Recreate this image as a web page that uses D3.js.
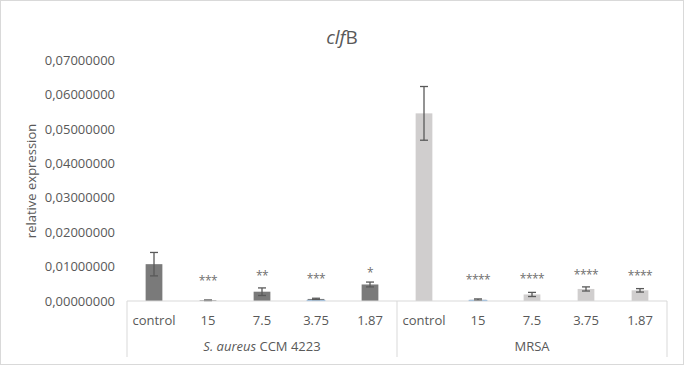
<!DOCTYPE html>
<html>
<head>
<meta charset="utf-8">
<script src="https://cdn.jsdelivr.net/npm/d3@7"></script>
<style>
body{margin:0;background:#fff;}
svg text{font-family:"Open Sans",sans-serif;fill:#595959;}
</style>
</head>
<body>
<svg id="chart"></svg>
<script>
// data
var groups=["S. aureus CCM 4223","MRSA"];
var doses=["control","15","7.5","3.75","1.87"];
var saureusVal=[0.0107,0.0002,0.0027,0.0006,0.0048];
var saureusErr=[0.0034,0.0001,0.0011,0.0002,0.0007];
var saureusSig=["","***","**","***","*"];
var saureusSigAt=[0,0.0067,0.0081,0.0072,0.0090];
var mrsaVal=[0.0545,0.0004,0.0019,0.0035,0.0031];
var mrsaErr=[0.0078,0.0002,0.0006,0.0006,0.0005];
var mrsaSig=["","****","****","****","****"];
var mrsaSigAt=[0,0.0070,0.0072,0.0085,0.0082];
var yTicks=[0,0.01,0.02,0.03,0.04,0.05,0.06,0.07];
// bars that carry a blue selection line in the original
var blueBars=["0-3","1-1"];

var w=685,h=366;
var margin={left:127,right:18,top:60,bottom:65};
var colors=["#7a7a7a","#d0cece"];

var rows=[];
[[saureusVal,saureusErr,saureusSig,saureusSigAt],[mrsaVal,mrsaErr,mrsaSig,mrsaSigAt]].forEach(function(s,g){
  doses.forEach(function(d,i){
    rows.push({key:g+"-"+i,group:g,dose:d,value:s[0][i],err:s[1][i],sig:s[2][i],sigAt:s[3][i]});
  });
});

var svg=d3.select("#chart").attr("width",w).attr("height",h);
svg.append("rect")
   .attr("x",0.5).attr("y",0.5)
   .attr("width",w-2).attr("height",h-2)
   .attr("fill","#fff").attr("stroke","#d9d9d9");

var xScale=d3.scaleBand()
             .domain(rows.map(function(d){return d.key;}))
             .range([margin.left,w-margin.right])
             .paddingInner(0.69)
             .paddingOuter(0.345);
var yScale=d3.scaleLinear()
             .domain([0,0.07])
             .range([h-margin.bottom,margin.top]);

// y axis labels only
var yAxis=d3.axisLeft(yScale)
            .tickValues(yTicks)
            .tickSize(0)
            .tickPadding(0)
            .tickFormat(function(d){return d3.format(".8f")(d).replace(".",",");});
var ya=svg.append("g")
   .attr("transform","translate(115,0)")
   .call(yAxis);
ya.select(".domain").remove();
ya.selectAll("text").attr("font-size",13).attr("fill","#595959").style("font-family","Open Sans");

// bars
svg.selectAll("rect.bar")
   .data(rows)
   .enter()
   .append("rect")
   .classed("bar",true)
   .attr("x",function(d){return xScale(d.key);})
   .attr("width",xScale.bandwidth())
   .attr("y",function(d){return yScale(d.value);})
   .attr("height",function(d){return yScale(0)-yScale(d.value);})
   .attr("fill",function(d){return colors[d.group];});

svg.selectAll("line.blue")
   .data(rows.filter(function(d){return blueBars.indexOf(d.key)>=0;}))
   .enter()
   .append("line")
   .classed("blue",true)
   .attr("x1",function(d){return xScale(d.key)-1;})
   .attr("x2",function(d){return xScale(d.key)+xScale.bandwidth()+1;})
   .attr("y1",yScale(0)-0.5)
   .attr("y2",yScale(0)-0.5)
   .attr("stroke","#7aaee0")
   .attr("stroke-width",1.2);

// error bars
var eb=svg.selectAll("g.err")
   .data(rows)
   .enter()
   .append("g")
   .classed("err",true)
   .attr("stroke","#595959")
   .attr("stroke-width",1.3);
eb.append("line")
  .attr("x1",function(d){return xScale(d.key)+xScale.bandwidth()/2;})
  .attr("x2",function(d){return xScale(d.key)+xScale.bandwidth()/2;})
  .attr("y1",function(d){return yScale(d.value+d.err);})
  .attr("y2",function(d){return yScale(Math.max(0,d.value-d.err));});
[1,-1].forEach(function(s){
  eb.append("line")
    .attr("x1",function(d){return xScale(d.key)+xScale.bandwidth()/2-4;})
    .attr("x2",function(d){return xScale(d.key)+xScale.bandwidth()/2+4;})
    .attr("y1",function(d){return yScale(Math.max(0,d.value+s*d.err));})
    .attr("y2",function(d){return yScale(Math.max(0,d.value+s*d.err));});
});

// significance stars
svg.selectAll("text.sig")
   .data(rows.filter(function(d){return d.sig!="";}))
   .enter()
   .append("text")
   .classed("sig",true)
   .attr("x",function(d){return xScale(d.key)+xScale.bandwidth()/2;})
   .attr("y",function(d){return yScale(d.sigAt)+7;})
   .attr("text-anchor","middle")
   .attr("font-size",12)
   .attr("letter-spacing",-0.5)
   .style("fill","#6f6f6f")
   .text(function(d){return d.sig;});

// category axis box
var base=yScale(0);
var x0=margin.left,x1=w-margin.right,xm=(x0+x1)/2;
var axisColor="#d9d9d9";
svg.append("line").attr("x1",x0).attr("x2",x1).attr("y1",base).attr("y2",base)
   .attr("stroke",axisColor);
[x0,xm,x1].forEach(function(x){
  svg.append("line").attr("x1",x).attr("x2",x).attr("y1",base).attr("y2",base+56)
     .attr("stroke",axisColor);
});

svg.selectAll("text.cat")
   .data(rows)
   .enter()
   .append("text")
   .classed("cat",true)
   .attr("x",function(d){return xScale(d.key)+xScale.bandwidth()/2;})
   .attr("y",base+24)
   .attr("text-anchor","middle")
   .attr("font-size",13)
   .text(function(d){return d.dose;});

var g1=svg.append("text")
   .attr("x",(x0+xm)/2).attr("y",base+50)
   .attr("text-anchor","middle").attr("font-size",13);
g1.append("tspan").attr("font-style","italic").text("S. aureus");
g1.append("tspan").text(" CCM 4223");
svg.append("text")
   .attr("x",(xm+x1)/2).attr("y",base+50)
   .attr("text-anchor","middle").attr("font-size",13)
   .text(groups[1]);

// title and y label
var t=svg.append("text")
   .attr("x",342).attr("y",44)
   .attr("text-anchor","middle").attr("font-size",19);
t.append("tspan").attr("font-style","italic").text("clf");
t.append("tspan").text("B");

svg.append("text")
   .attr("transform","translate(36,181) rotate(-90)")
   .attr("text-anchor","middle")
   .attr("font-size",13)
   .text("relative expression");
</script>
</body>
</html>
